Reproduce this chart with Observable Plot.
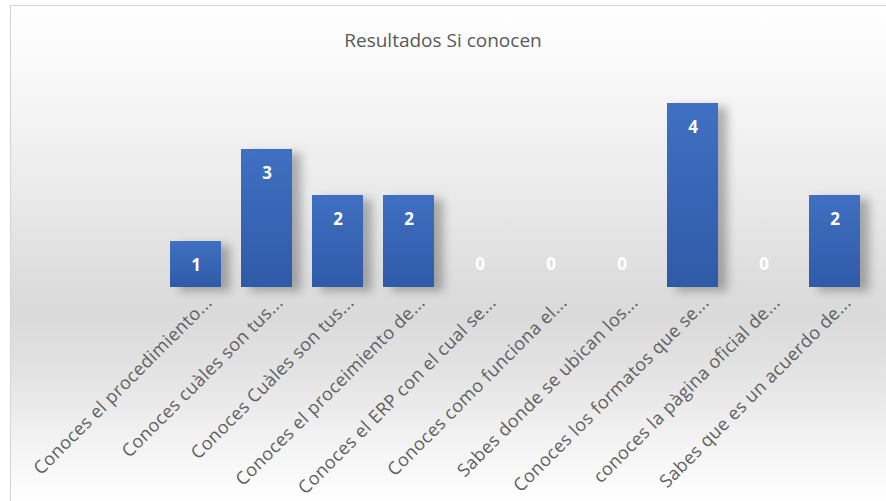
<!DOCTYPE html>
<html>
<head>
<meta charset="utf-8">
<script src="https://cdn.jsdelivr.net/npm/d3@7"></script>
<script src="https://cdn.jsdelivr.net/npm/@observablehq/plot@0.6"></script>
<style>
  html, body { margin: 0; padding: 0; background: #ffffff; width: 886px; height: 501px; overflow: hidden; }
  #frame {
    position: absolute; left: 10px; top: 5px; width: 880px; height: 500px;
    border-left: 1px solid #d4d4d4; border-top: 1px solid #d4d4d4;
    background: linear-gradient(to bottom, #ffffff 0%, #f8f8f8 14%, #ebebeb 36%, #dcdcdc 56%, #dadada 62%, #e4e4e4 74%, #f6f6f6 90%, #ffffff 100%);
  }
  #chart { position: absolute; left: 0; top: 0; width: 886px; }
  #title {
    height: 70px; box-sizing: border-box; padding-top: 27px;
    text-align: center; font-family: "Open Sans", sans-serif; font-size: 19px;
    line-height: 26px; color: #595959;
  }
</style>
</head>
<body>
<div id="frame"></div>
<div id="chart"><div id="title"></div></div>
<script>
const title = "Resultados Si conocen";
const categories = [
  "Conoces el procedimiento...",
  "Conoces cuàles son tus...",
  "Conoces Cuàles son tus...",
  "Conoces el proceimiento de...",
  "Conoces el ERP con el cual se...",
  "Conoces como funciona el...",
  "Sabes donde se ubican los...",
  "Conoces los formatos que se...",
  "conoces la pàgina oficial de...",
  "Sabes que es un acuerdo de..."
];
const values = [1, 3, 2, 2, 0, 0, 0, 4, 0, 2];

document.getElementById("title").textContent = title;

const data = categories.map((c, i) => ({c, v: values[i]}));

const defs = () => {
  const d = d3.create("svg:defs");
  const g = d.append("linearGradient").attr("id", "barGrad").attr("x1", 0).attr("y1", 0).attr("x2", 0).attr("y2", 1);
  g.append("stop").attr("offset", "0%").attr("stop-color", "#4070c2");
  g.append("stop").attr("offset", "100%").attr("stop-color", "#2f5aa8");
  return d.node();
};

const chart = Plot.plot({
  width: 886,
  height: 431,
  marginTop: 10,
  marginBottom: 214,
  marginLeft: 160,
  marginRight: 15,
  style: {background: "transparent", overflow: "visible", fontFamily: "'Open Sans', sans-serif"},
  x: {domain: categories, paddingInner: 0.28, paddingOuter: 0.14, label: null},
  y: {domain: [0, 4.5], axis: null},
  marks: [
    defs,
    Plot.barY(data, {x: "c", y: "v", fill: "url(#barGrad)"}),
    Plot.text(data.filter(d => d.v > 0), {x: "c", y: "v", text: d => String(d.v), dy: 24, fill: "white", fontWeight: "bold", fontSize: 17}),
    Plot.text(data.filter(d => d.v === 0), {x: "c", y: "v", text: d => String(d.v), dy: -23, fill: "white", fontWeight: "bold", fontSize: 17}),
    Plot.axisX({tickRotate: -45, tickSize: 0, tickPadding: 12, dx: 13, fontSize: 18, fill: "#5f5f5f", label: null})
  ]
});

const barG = chart.querySelector('g[aria-label="bar"]');
if (barG) barG.style.filter = "drop-shadow(9px 4px 5px rgba(0,0,0,0.28))";
const tickG = chart.querySelector('g[aria-label="x-axis tick label"]');
if (tickG) tickG.style.letterSpacing = "0.4px";
document.getElementById("chart").appendChild(chart);
</script>
</body>
</html>
